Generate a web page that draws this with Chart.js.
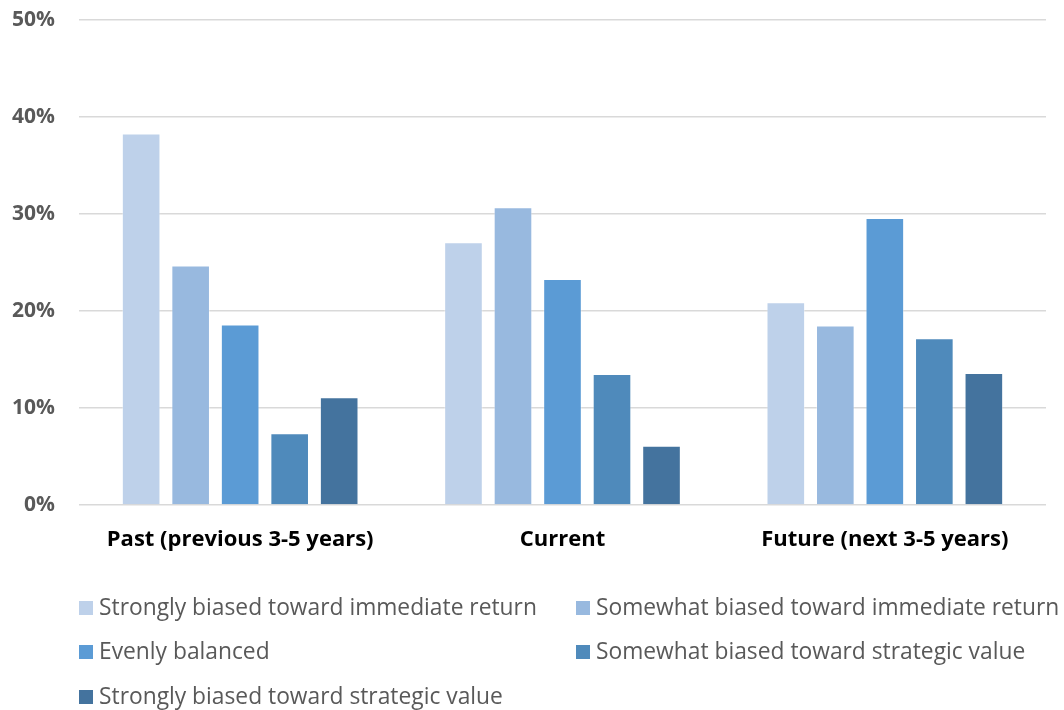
<!DOCTYPE html>
<html>
<head>
<meta charset="utf-8">
<script src="https://cdn.jsdelivr.net/npm/chart.js@4.4.1/dist/chart.umd.min.js"></script>
<style>
  html, body { margin: 0; padding: 0; background: #ffffff; }
  #wrap { width: 1064px; height: 710px; position: relative; }
</style>
</head>
<body>
<div id="wrap"><canvas id="chart" width="1064" height="710"></canvas></div>
<script>
// Time horizons compared in the survey
const categories = ['Past (previous 3-5 years)', 'Current', 'Future (next 3-5 years)'];

// Share of respondents (%) for each investment stance
const seriesNames = [
  'Strongly biased toward immediate return',
  'Somewhat biased toward immediate return',
  'Evenly balanced',
  'Somewhat biased toward strategic value',
  'Strongly biased toward strategic value'
];
const strongImmediate = [38.3, 27.1, 20.9];
const somewhatImmediate = [24.7, 30.7, 18.5];
const evenlyBalanced = [18.6, 23.3, 29.6];
const somewhatStrategic = [7.4, 13.5, 17.2];
const strongStrategic = [11.1, 6.1, 13.6];

// Value axis ticks (%)
const yTicks = [0, 10, 20, 30, 40, 50];

const seriesColors = ['#bed1ea', '#98b9df', '#5b9bd5', '#4f8abb', '#44739e'];
const seriesValues = [strongImmediate, somewhatImmediate, evenlyBalanced, somewhatStrategic, strongStrategic];

const FONT = '"Open Sans", "Liberation Sans", sans-serif';

// Two-column legend drawn under the plot
const gridLegend = {
  id: 'gridLegend',
  afterDraw(chart) {
    const ctx = chart.ctx;
    const colX = [79, 576];
    const rowY = [608, 652, 697];
    ctx.save();
    ctx.font = '400 22.8px ' + FONT;
    ctx.textBaseline = 'middle';
    ctx.textAlign = 'left';
    chart.data.datasets.forEach((ds, i) => {
      const x = colX[i % 2];
      const y = rowY[Math.floor(i / 2)];
      ctx.fillStyle = ds.backgroundColor;
      ctx.fillRect(x, y - 7, 14, 14);
      ctx.fillStyle = '#595959';
      ctx.fillText(ds.label, x + 20, y + 1);
    });
    ctx.restore();
  }
};

new Chart(document.getElementById('chart'), {
  type: 'bar',
  data: {
    labels: categories,
    datasets: seriesNames.map((name, i) => ({
      label: name,
      data: seriesValues[i],
      backgroundColor: seriesColors[i],
      borderColor: 'rgba(255,255,255,0.35)',
      borderWidth: 1,
      categoryPercentage: 0.768,
      barPercentage: 0.78
    }))
  },
  options: {
    responsive: false,
    animation: false,
    layout: { padding: { top: 20, right: 18, bottom: 0, left: 0 } },
    plugins: {
      legend: { display: false },
      tooltip: { enabled: false }
    },
    scales: {
      x: {
        grid: { display: false, drawTicks: false },
        border: { display: false },
        ticks: {
          color: '#000000',
          font: { family: FONT, size: 22, weight: 'bold' },
          padding: 22,
          maxRotation: 0
        },
        afterFit(scale) { scale.height = 205; }
      },
      y: {
        min: yTicks[0],
        max: yTicks[yTicks.length - 1],
        afterBuildTicks(scale) { scale.ticks = yTicks.map(v => ({ value: v })); },
        grid: { color: '#d9d9d9', lineWidth: 1.6, drawTicks: false },
        border: { display: false },
        ticks: {
          color: '#595959',
          font: { family: FONT, size: 21, weight: 'bold' },
          padding: 24,
          callback: v => v + '%'
        },
        afterFit(scale) {
          scale.width = 79;
          scale.paddingTop = 0;
          scale.paddingBottom = 0;
        }
      }
    }
  },
  plugins: [gridLegend]
});
</script>
</body>
</html>
